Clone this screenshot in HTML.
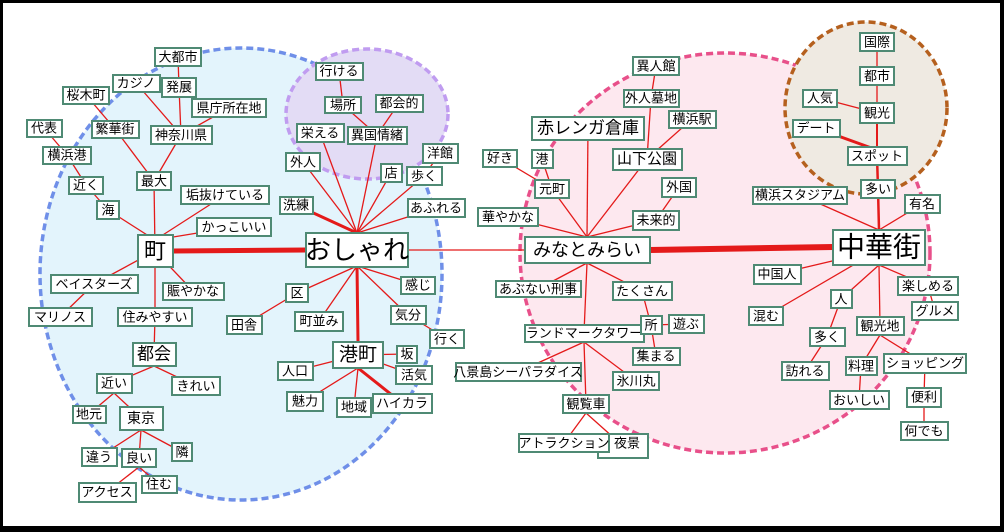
<!DOCTYPE html>
<html><head><meta charset="utf-8"><style>
html,body{margin:0;padding:0;background:#000}
svg{display:block}
text{font-family:"Liberation Sans","Noto Sans CJK JP",sans-serif;font-size:13px;fill:#000;text-anchor:middle;dominant-baseline:central}
.b rect{fill:#fff;stroke:#4f8a74;stroke-width:2}
.l line{stroke:#e41a1a;stroke-width:1.3}
</style></head><body>
<svg width="1004" height="532" viewBox="0 0 1004 532" xmlns="http://www.w3.org/2000/svg">
<rect x="0" y="0" width="1004" height="532" fill="#000"/>
<rect x="3" y="3" width="997" height="523" fill="#fff"/>
<ellipse cx="241" cy="274" rx="201" ry="226" fill="#e3f4fc" stroke="#6f8fe8" stroke-width="3.5" stroke-dasharray="7 4"/>
<ellipse cx="725" cy="253" rx="205" ry="200" fill="#fde8ef" stroke="#e8508a" stroke-width="3.5" stroke-dasharray="7 4"/>
<ellipse cx="367" cy="114" rx="81" ry="65" fill="#e3dcf5" stroke="#c09cf0" stroke-width="3.5" stroke-dasharray="7 4"/>
<ellipse cx="866" cy="108" rx="81" ry="86" fill="#efeae2" stroke="#b5601e" stroke-width="3.5" stroke-dasharray="7 4"/>
<g class="l">
<line x1="155" y1="251" x2="154" y2="181"/><line x1="155" y1="240" x2="108" y2="210"/><line x1="155" y1="240" x2="225" y2="195"/><line x1="155" y1="240" x2="234" y2="227"/>
<line x1="155" y1="251" x2="94" y2="284"/><line x1="155" y1="251" x2="193" y2="291"/><line x1="155" y1="251" x2="155" y2="317"/>
<line x1="154" y1="181" x2="181" y2="135"/><line x1="154" y1="181" x2="115" y2="129"/>
<line x1="181" y1="135" x2="136" y2="83"/><line x1="181" y1="135" x2="179" y2="87"/><line x1="181" y1="135" x2="229" y2="108"/><line x1="179" y1="87" x2="178" y2="57"/>
<line x1="115" y1="129" x2="86" y2="95"/><line x1="108" y1="210" x2="86" y2="185"/><line x1="86" y1="185" x2="67" y2="155"/><line x1="67" y1="155" x2="44" y2="128"/>
<line x1="94" y1="284" x2="60" y2="317"/><line x1="155" y1="317" x2="154" y2="354"/>
<line x1="154" y1="366" x2="114" y2="383"/><line x1="154" y1="366" x2="196" y2="386"/>
<line x1="114" y1="393" x2="89" y2="414"/><line x1="114" y1="393" x2="141" y2="418"/>
<line x1="141" y1="430" x2="99" y2="457"/><line x1="141" y1="430" x2="139" y2="458"/><line x1="141" y1="430" x2="182" y2="452"/>
<line x1="139" y1="467" x2="107" y2="492"/><line x1="139" y1="467" x2="159" y2="484"/>
<line x1="357" y1="233" x2="303" y2="162"/><line x1="357" y1="233" x2="320" y2="133"/><line x1="357" y1="233" x2="377" y2="135"/><line x1="357" y1="233" x2="391" y2="173"/><line x1="357" y1="233" x2="424" y2="176"/><line x1="357" y1="233" x2="436" y2="208"/>
<line x1="357" y1="266" x2="297" y2="293"/><line x1="357" y1="266" x2="319" y2="321"/><line x1="357" y1="266" x2="418" y2="285"/><line x1="357" y1="266" x2="408" y2="315"/>
<line x1="408" y1="250" x2="525" y2="250" stroke-width="1"/>
<line x1="424" y1="176" x2="440" y2="153"/><line x1="377" y1="135" x2="343" y2="105"/><line x1="377" y1="135" x2="399" y2="103"/><line x1="343" y1="105" x2="339" y2="71"/>
<line x1="297" y1="293" x2="244" y2="325"/><line x1="408" y1="315" x2="447" y2="339"/>
<line x1="358" y1="355" x2="295" y2="371"/><line x1="358" y1="368" x2="305" y2="401"/><line x1="358" y1="368" x2="354" y2="407"/><line x1="358" y1="355" x2="407" y2="354"/><line x1="358" y1="355" x2="414" y2="375"/>
<line x1="587" y1="237" x2="588" y2="128"/><line x1="587" y1="237" x2="552" y2="189"/><line x1="587" y1="237" x2="508" y2="217"/><line x1="587" y1="237" x2="647" y2="159"/><line x1="587" y1="237" x2="656" y2="220"/>
<line x1="587" y1="263" x2="538" y2="289"/><line x1="587" y1="263" x2="642" y2="291"/><line x1="587" y1="263" x2="584" y2="333"/>
<line x1="552" y1="189" x2="542" y2="159"/><line x1="552" y1="189" x2="500" y2="158"/>
<line x1="647" y1="159" x2="651" y2="98"/><line x1="647" y1="159" x2="692" y2="119"/><line x1="651" y1="98" x2="656" y2="66"/><line x1="656" y1="220" x2="679" y2="187"/>
<line x1="642" y1="291" x2="651" y2="325"/><line x1="651" y1="325" x2="686" y2="324"/><line x1="651" y1="325" x2="656" y2="356"/>
<line x1="584" y1="342" x2="518" y2="372"/><line x1="584" y1="342" x2="636" y2="381"/><line x1="584" y1="342" x2="586" y2="404"/>
<line x1="586" y1="413" x2="564" y2="443"/><line x1="586" y1="413" x2="623" y2="446"/>
<line x1="879" y1="230" x2="800" y2="195"/><line x1="879" y1="230" x2="922" y2="204"/>
<line x1="879" y1="250" x2="777" y2="274"/><line x1="879" y1="250" x2="766" y2="316"/>
<line x1="879" y1="265" x2="841" y2="299"/><line x1="879" y1="265" x2="880" y2="326"/><line x1="879" y1="265" x2="928" y2="286"/>
<line x1="928" y1="286" x2="935" y2="311"/><line x1="841" y1="299" x2="827" y2="337"/><line x1="827" y1="337" x2="805" y2="371"/>
<line x1="880" y1="335" x2="861" y2="366"/><line x1="880" y1="335" x2="925" y2="363"/><line x1="861" y1="366" x2="859" y2="400"/>
<line x1="925" y1="363" x2="924" y2="397"/><line x1="924" y1="397" x2="924" y2="431"/>
<line x1="877" y1="113" x2="877" y2="76"/><line x1="877" y1="76" x2="877" y2="42"/><line x1="877" y1="113" x2="820" y2="98"/>
</g>
<g stroke="#e41a1a" stroke-linecap="round">
<line x1="173" y1="251" x2="306" y2="250" stroke-width="5"/>
<line x1="296" y1="205" x2="357" y2="233" stroke-width="3"/>
<line x1="357" y1="266" x2="358" y2="342" stroke-width="3"/>
<line x1="358" y1="368" x2="402" y2="403" stroke-width="3"/>
<line x1="650" y1="250" x2="833" y2="247" stroke-width="6"/>
<line x1="878" y1="189" x2="879" y2="230" stroke-width="2.5"/>
<line x1="878" y1="189" x2="877" y2="156" stroke-width="2.5"/>
<line x1="877" y1="156" x2="877" y2="113" stroke-width="2"/>
<line x1="877" y1="150" x2="816" y2="128" stroke-width="3"/>
</g>
<g class="b">
<rect x="155" y="48" width="46" height="18"/><text x="178" y="57">大都市</text>
<rect x="113" y="75" width="47" height="17"/><text x="136" y="83">カジノ</text>
<rect x="162" y="78" width="34" height="19"/><text x="179" y="87">発展</text>
<rect x="63" y="87" width="46" height="17"/><text x="86" y="95">桜木町</text>
<rect x="192" y="99" width="74" height="18"/><text x="229" y="108">県庁所在地</text>
<rect x="27" y="120" width="35" height="17"/><text x="44" y="128">代表</text>
<rect x="92" y="121" width="47" height="17"/><text x="115" y="129">繁華街</text>
<rect x="151" y="126" width="61" height="18"/><text x="181" y="135">神奈川県</text>
<rect x="43" y="147" width="48" height="17"/><text x="67" y="155">横浜港</text>
<rect x="69" y="177" width="34" height="17"/><text x="86" y="185">近く</text>
<rect x="137" y="172" width="34" height="18"/><text x="154" y="181">最大</text>
<rect x="181" y="186" width="88" height="18"/><text x="225" y="195">垢抜けている</text>
<rect x="97" y="201" width="22" height="18"/><text x="108" y="210">海</text>
<rect x="197" y="218" width="74" height="18"/><text x="234" y="227">かっこいい</text>
<rect x="138" y="235" width="35" height="32"/><text x="155" y="251" style="font-size:22px">町</text>
<rect x="316" y="63" width="47" height="17"/><text x="339" y="71">行ける</text>
<rect x="325" y="97" width="36" height="16"/><text x="343" y="105">場所</text>
<rect x="376" y="95" width="47" height="17"/><text x="399" y="103">都会的</text>
<rect x="297" y="124" width="47" height="18"/><text x="320" y="133">栄える</text>
<rect x="348" y="127" width="59" height="17"/><text x="377" y="135">異国情緒</text>
<rect x="286" y="153" width="34" height="18"/><text x="303" y="162">外人</text>
<rect x="423" y="144" width="35" height="19"/><text x="440" y="153">洋館</text>
<rect x="381" y="164" width="21" height="18"/><text x="391" y="173">店</text>
<rect x="407" y="167" width="35" height="18"/><text x="424" y="176">歩く</text>
<rect x="280" y="197" width="33" height="17"/><text x="296" y="205">洗練</text>
<rect x="408" y="199" width="57" height="18"/><text x="436" y="208">あふれる</text>
<rect x="306" y="233" width="102" height="34"/><text x="357" y="250" style="font-size:26px">おしゃれ</text>
<rect x="51" y="275" width="87" height="18"/><text x="94" y="284">ベイスターズ</text>
<rect x="163" y="283" width="61" height="17"/><text x="193" y="291">賑やかな</text>
<rect x="29" y="308" width="63" height="18"/><text x="60" y="317">マリノス</text>
<rect x="118" y="308" width="74" height="18"/><text x="155" y="317">住みやすい</text>
<rect x="286" y="284" width="22" height="18"/><text x="297" y="293">区</text>
<rect x="401" y="277" width="34" height="17"/><text x="418" y="285">感じ</text>
<rect x="227" y="316" width="35" height="18"/><text x="244" y="325">田舎</text>
<rect x="295" y="312" width="48" height="19"/><text x="319" y="321">町並み</text>
<rect x="391" y="306" width="35" height="18"/><text x="408" y="315">気分</text>
<rect x="430" y="330" width="34" height="18"/><text x="447" y="339">行く</text>
<rect x="133" y="343" width="43" height="23"/><text x="154" y="354" style="font-size:17px">都会</text>
<rect x="333" y="342" width="50" height="26"/><text x="358" y="355" style="font-size:19px">港町</text>
<rect x="397" y="346" width="20" height="17"/><text x="407" y="354">坂</text>
<rect x="278" y="362" width="35" height="18"/><text x="295" y="371">人口</text>
<rect x="396" y="366" width="36" height="18"/><text x="414" y="375">活気</text>
<rect x="97" y="374" width="35" height="19"/><text x="114" y="383">近い</text>
<rect x="172" y="377" width="48" height="18"/><text x="196" y="386">きれい</text>
<rect x="287" y="392" width="36" height="19"/><text x="305" y="401">魅力</text>
<rect x="337" y="398" width="34" height="19"/><text x="354" y="407">地域</text>
<rect x="373" y="394" width="59" height="19"/><text x="402" y="403">ハイカラ</text>
<rect x="73" y="406" width="33" height="17"/><text x="89" y="414">地元</text>
<rect x="120" y="407" width="43" height="23"/><text x="141" y="418" style="font-size:14px">東京</text>
<rect x="82" y="448" width="35" height="18"/><text x="99" y="457">違う</text>
<rect x="172" y="443" width="20" height="18"/><text x="182" y="452">隣</text>
<rect x="122" y="449" width="34" height="18"/><text x="139" y="458">良い</text>
<rect x="79" y="483" width="57" height="19"/><text x="107" y="492">アクセス</text>
<rect x="142" y="476" width="35" height="17"/><text x="159" y="484">住む</text>
<rect x="860" y="33" width="34" height="18"/><text x="877" y="42">国際</text>
<rect x="860" y="67" width="34" height="18"/><text x="877" y="76">都市</text>
<rect x="803" y="90" width="34" height="17"/><text x="820" y="98">人気</text>
<rect x="860" y="103" width="34" height="20"/><text x="877" y="113">観光</text>
<rect x="793" y="120" width="47" height="17"/><text x="816" y="128">デート</text>
<rect x="848" y="147" width="59" height="18"/><text x="877" y="156">スポット</text>
<rect x="861" y="180" width="34" height="18"/><text x="878" y="189">多い</text>
<rect x="753" y="187" width="94" height="17"/><text x="800" y="195">横浜スタジアム</text>
<rect x="905" y="195" width="35" height="18"/><text x="922" y="204">有名</text>
<rect x="833" y="230" width="92" height="35"/><text x="879" y="247" style="font-size:28px">中華街</text>
<rect x="633" y="57" width="46" height="18"/><text x="656" y="66">異人館</text>
<rect x="624" y="90" width="55" height="17"/><text x="651" y="98">外人墓地</text>
<rect x="669" y="111" width="47" height="17"/><text x="692" y="119">横浜駅</text>
<rect x="532" y="117" width="112" height="23"/><text x="588" y="128" style="font-size:17px">赤レンガ倉庫</text>
<rect x="483" y="150" width="34" height="17"/><text x="500" y="158">好き</text>
<rect x="532" y="150" width="21" height="18"/><text x="542" y="159">港</text>
<rect x="613" y="149" width="69" height="21"/><text x="647" y="159" style="font-size:15px">山下公園</text>
<rect x="535" y="180" width="34" height="18"/><text x="552" y="189">元町</text>
<rect x="662" y="178" width="34" height="19"/><text x="679" y="187">外国</text>
<rect x="478" y="208" width="60" height="18"/><text x="508" y="217">華やかな</text>
<rect x="633" y="211" width="46" height="19"/><text x="656" y="220">未来的</text>
<rect x="525" y="237" width="125" height="26"/><text x="587" y="250" style="font-size:18px">みなとみらい</text>
<rect x="496" y="281" width="85" height="16"/><text x="538" y="289">あぶない刑事</text>
<rect x="613" y="282" width="59" height="18"/><text x="642" y="291">たくさん</text>
<rect x="754" y="265" width="47" height="19"/><text x="777" y="274">中国人</text>
<rect x="898" y="277" width="60" height="18"/><text x="928" y="286">楽しめる</text>
<rect x="831" y="290" width="21" height="18"/><text x="841" y="299">人</text>
<rect x="749" y="307" width="34" height="18"/><text x="766" y="316">混む</text>
<rect x="912" y="302" width="46" height="18"/><text x="935" y="311">グルメ</text>
<rect x="669" y="315" width="35" height="18"/><text x="686" y="324">遊ぶ</text>
<rect x="525" y="325" width="119" height="17"/><text x="584" y="333">ランドマークタワー</text>
<rect x="641" y="316" width="21" height="18"/><text x="651" y="325">所</text>
<rect x="857" y="317" width="47" height="18"/><text x="880" y="326">観光地</text>
<rect x="810" y="328" width="35" height="18"/><text x="827" y="337">多く</text>
<rect x="633" y="348" width="47" height="17"/><text x="656" y="356">集まる</text>
<rect x="456" y="363" width="125" height="18"/><text x="518" y="372">八景島シーパラダイス</text>
<rect x="613" y="372" width="46" height="18"/><text x="636" y="381">氷川丸</text>
<rect x="782" y="362" width="47" height="18"/><text x="805" y="371">訪れる</text>
<rect x="846" y="357" width="31" height="18"/><text x="861" y="366">料理</text>
<rect x="884" y="354" width="82" height="19"/><text x="925" y="363">ショッピング</text>
<rect x="563" y="395" width="46" height="18"/><text x="586" y="404">観覧車</text>
<rect x="830" y="391" width="59" height="18"/><text x="859" y="400">おいしい</text>
<rect x="907" y="388" width="34" height="19"/><text x="924" y="397">便利</text>
<rect x="598" y="434" width="50" height="24"/><text x="627" y="443">夜景</text>
<rect x="519" y="434" width="90" height="18"/><text x="564" y="443">アトラクション</text>
<rect x="901" y="422" width="47" height="18"/><text x="924" y="431">何でも</text>
</g>
</svg>
</body></html>
